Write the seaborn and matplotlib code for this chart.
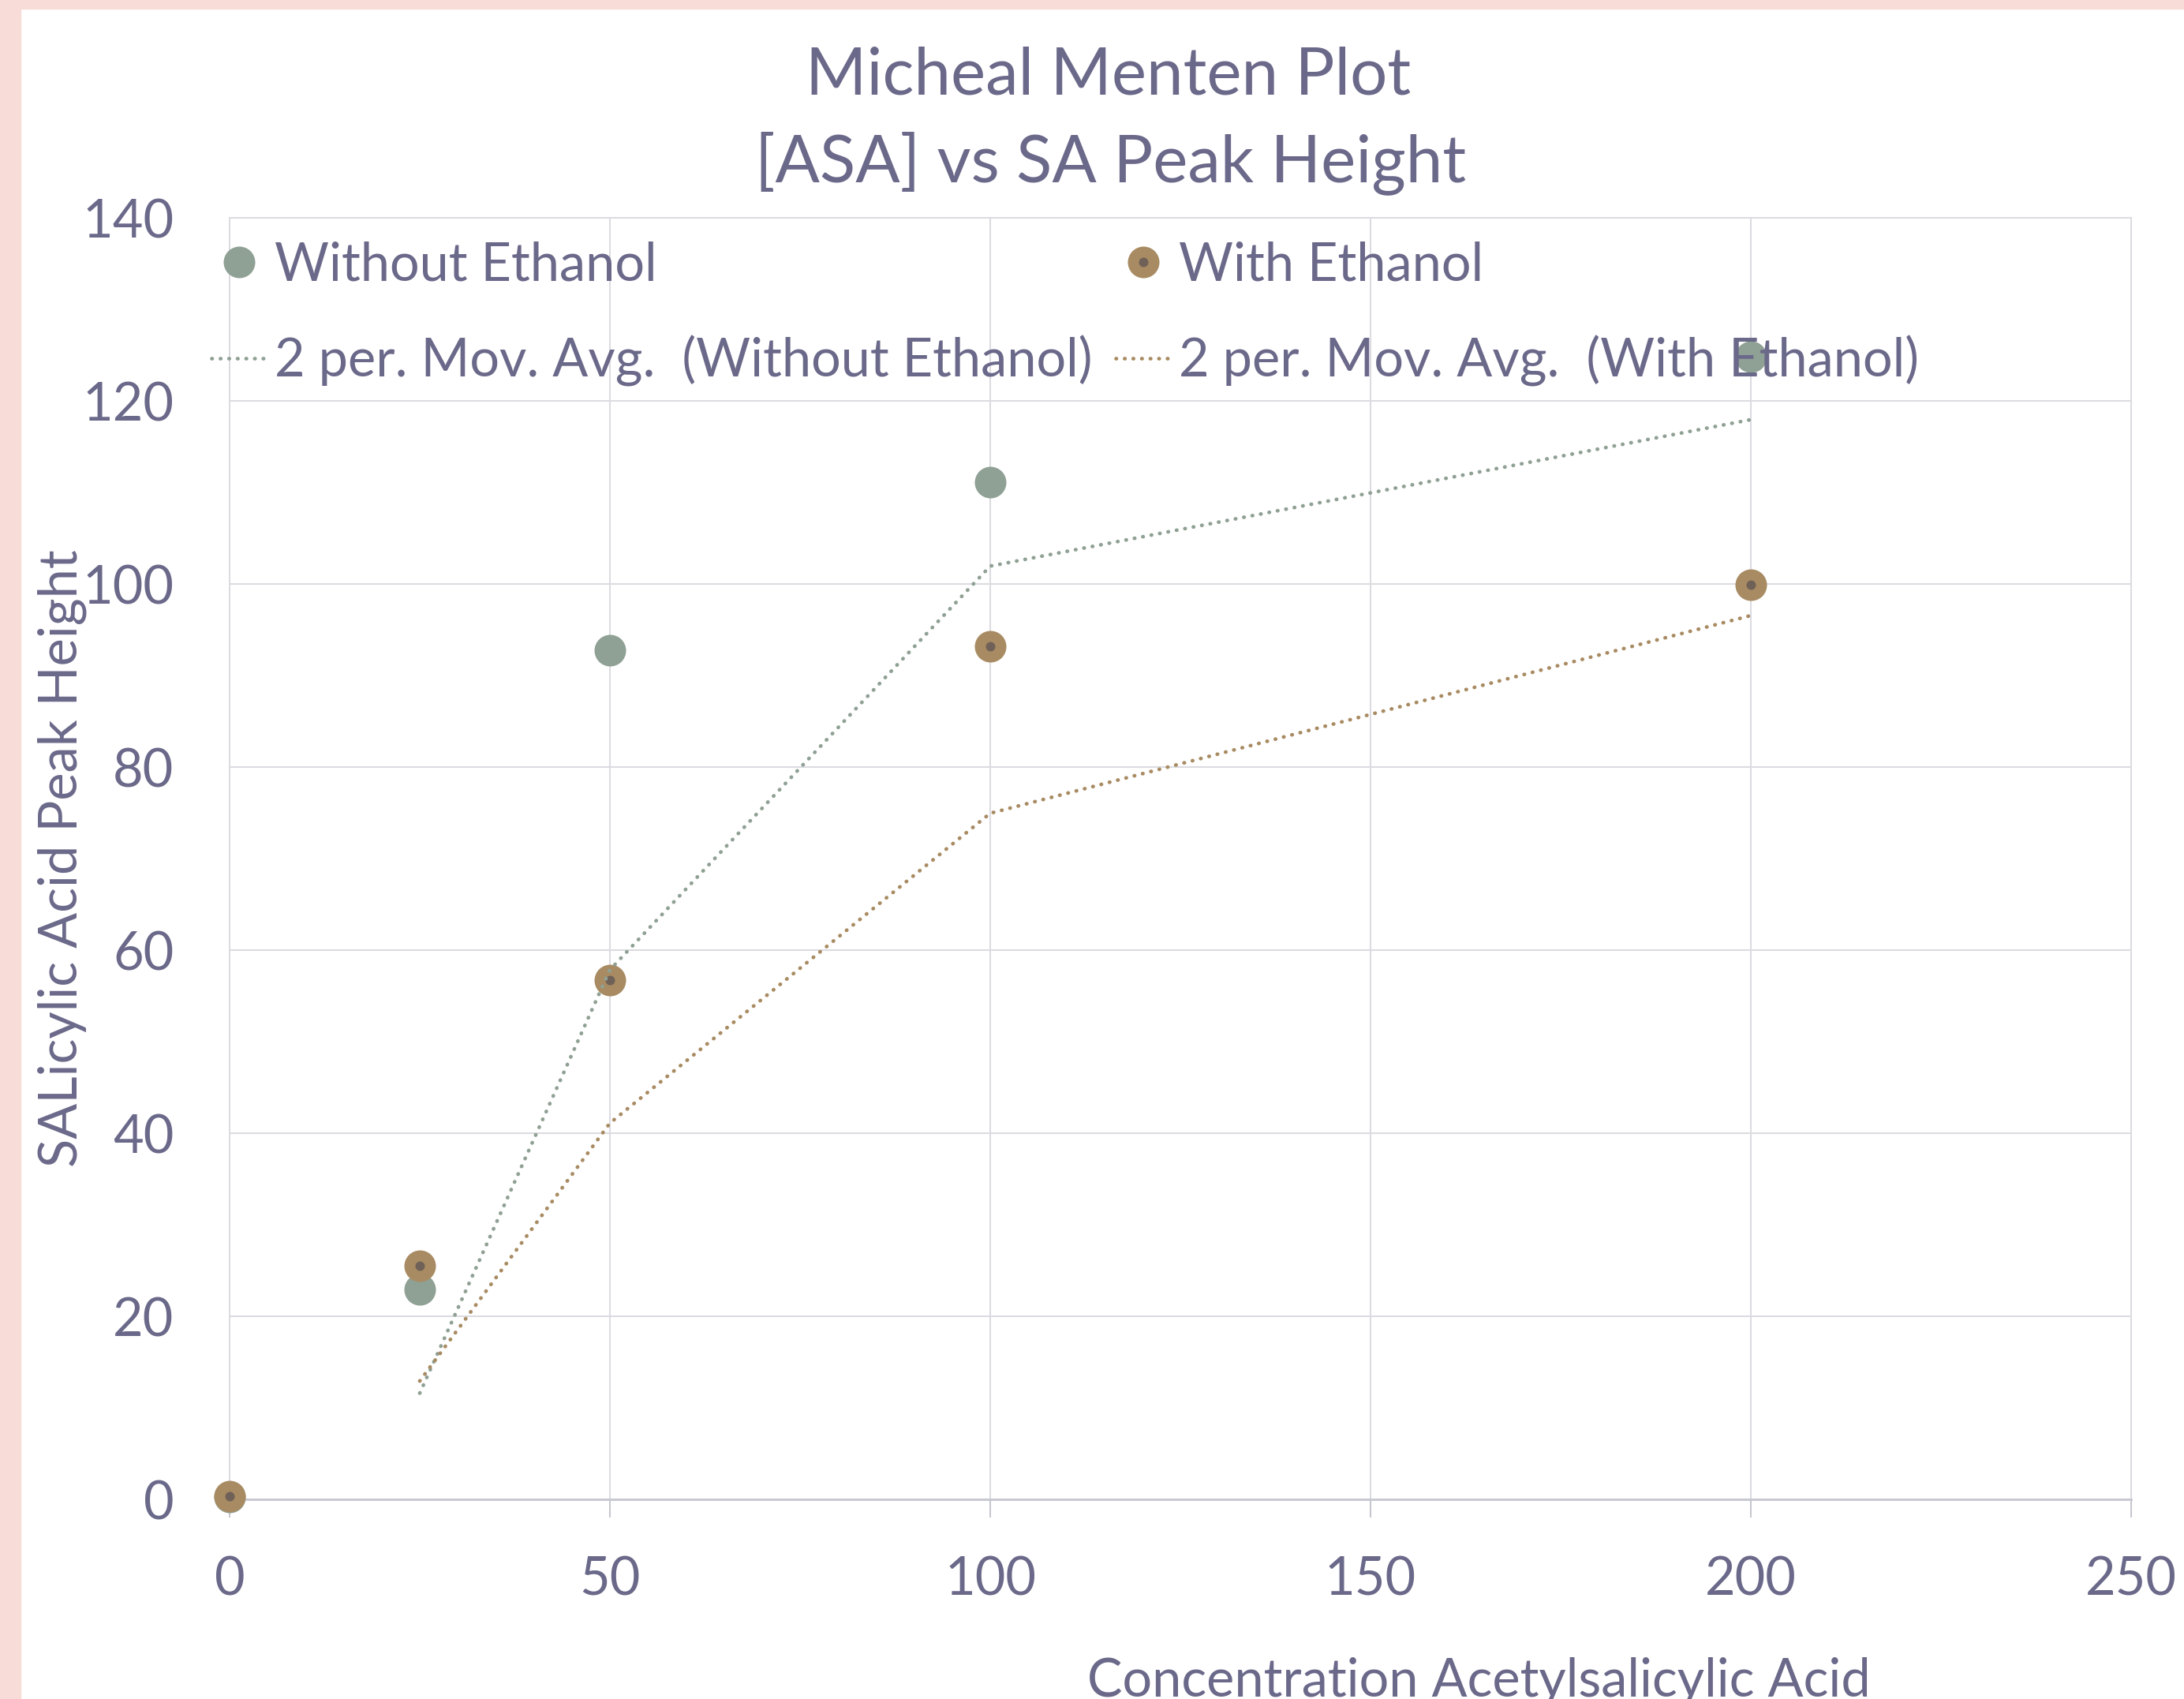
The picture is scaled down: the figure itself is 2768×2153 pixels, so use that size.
import pandas as pd
import matplotlib
matplotlib.use("Agg")
import matplotlib.pyplot as plt
from matplotlib.patches import Rectangle
import seaborn as sns

# Data
conc = [0, 25, 50, 100, 200]
without_ethanol = [0.3, 22.9, 92.8, 111.1, 124.8]
with_ethanol = [0.35, 25.5, 56.7, 93.2, 99.9]

x_ticks = [0, 50, 100, 150, 200, 250]
y_ticks = [0, 20, 40, 60, 80, 100, 120, 140]

df = pd.DataFrame({"conc": conc, "without": without_ethanol, "with": with_ethanol})
# 2 period moving average trendline (same as the Excel trendline)
df["without_ma"] = df["without"].rolling(2).mean()
df["with_ma"] = df["with"].rolling(2).mean()

# colours
green = "#8FA094"
brown = "#A88B62"
dark = "#706158"
text_col = "#6B698A"
grid_col = "#DBDBE1"
axis_col = "#C6C6D0"
pink = "#F7DCD7"

sns.set_theme(style="white")
plt.rcParams["font.family"] = ["Lato", "DejaVu Sans"]

W, H = 2768, 2153
fig = plt.figure(figsize=(W / 100, H / 100), dpi=100)
ax = fig.add_axes([291 / W, 1 - 1900 / H, 2410 / W, 1624 / H])

# pink frame on the left and top
fig.patches.append(Rectangle((0, 0), 26 / W, 1, transform=fig.transFigure, color=pink, zorder=0))
fig.patches.append(Rectangle((0, 1 - 11 / H), 1, 11 / H, transform=fig.transFigure, color=pink, zorder=0))

# points
sns.scatterplot(data=df, x="conc", y="without", ax=ax, color=green, s=830, linewidth=0, zorder=3, clip_on=False)
sns.scatterplot(data=df, x="conc", y="with", ax=ax, color=brown, s=830, linewidth=0, zorder=3, clip_on=False)
sns.scatterplot(data=df, x="conc", y="with", ax=ax, color=dark, s=75, linewidth=0, zorder=3, clip_on=False)

# moving average trendlines
sns.lineplot(data=df, x="conc", y="without_ma", ax=ax, color=green, lw=3.4,
             linestyle=(0, (0.1, 2.2)), dash_capstyle="round", estimator=None, sort=False, zorder=4)
sns.lineplot(data=df, x="conc", y="with_ma", ax=ax, color=brown, lw=3.4,
             linestyle=(0, (0.1, 2.2)), dash_capstyle="round", estimator=None, sort=False, zorder=4)

ax.set_xlim(0, 250)
ax.set_ylim(0, 140)
ax.set_xticks(x_ticks)
ax.set_yticks(y_ticks)

ax.grid(True, color=grid_col, lw=1.45)
ax.set_axisbelow(True)
for line in ax.get_xgridlines() + ax.get_ygridlines():
    line.set_clip_on(False)
for side in ["top", "right", "left"]:
    ax.spines[side].set_visible(False)
ax.spines["bottom"].set_color(axis_col)
ax.spines["bottom"].set_linewidth(2)

ax.tick_params(axis="x", bottom=True, direction="out", length=16.6, width=1.45, color=axis_col,
               pad=35, labelsize=48, labelcolor=text_col)
ax.tick_params(axis="y", left=False, length=0, pad=51, labelsize=48, labelcolor=text_col)

ax.set_xlabel("Concentration Acetylsalicylic Acid", fontsize=48, color=text_col)
ax.xaxis.set_label_coords(0.657, -0.154)
ax.xaxis.label.set_va("baseline")
ax.set_ylabel("SALicylic Acid Peak Height", fontsize=48, color=text_col)
ax.yaxis.set_label_coords(-0.088, 0.5)
ax.yaxis.label.set_va("center")

# title
fig.text(1405 / W, 1 - 120 / H, "Micheal Menten Plot", ha="center", va="baseline", fontsize=60, color=text_col)
fig.text(1408 / W, 1 - 230 / H, "[ASA] vs SA Peak Height", ha="center", va="baseline", fontsize=60, color=text_col)

# legend, two columns placed separately
pts = ax.collections
lines = ax.lines
leg_kw = dict(loc="upper left", bbox_transform=fig.transFigure, frameon=False, borderpad=0,
              borderaxespad=0, handlelength=1.05, handletextpad=0.15, labelspacing=0.86,
              fontsize=48, labelcolor=text_col, scatteryoffsets=[0.5])
leg1 = ax.legend([pts[0], lines[0]], ["Without Ethanol", "2 per. Mov. Avg.  (Without Ethanol)"],
                 bbox_to_anchor=(268 / W, 1 - 305 / H), **leg_kw)
ax.add_artist(leg1)
ax.legend([(pts[1], pts[2]), lines[1]], ["With Ethanol", "2 per. Mov. Avg.  (With Ethanol)"],
          bbox_to_anchor=(1414 / W, 1 - 305 / H), **leg_kw)

plt.savefig("out.png", dpi=100)
plt.close()
